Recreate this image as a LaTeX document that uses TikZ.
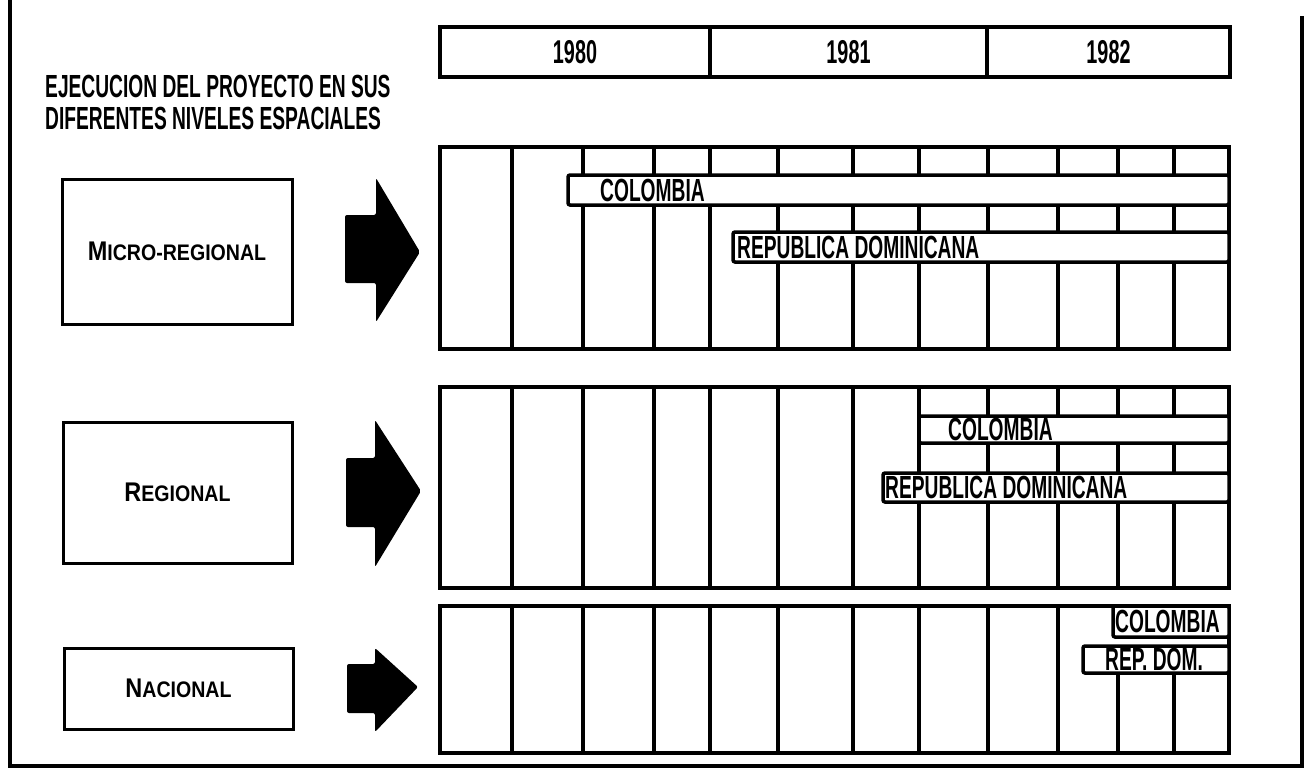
\documentclass[tikz,border=0pt]{standalone}
\usepackage{fontspec}
\setmainfont{Liberation Sans}
\newfontfamily\plotfont[FakeStretch=0.6]{Liberation Sans}
\newfontfamily\levelfont[FakeStretch=0.87]{Liberation Sans}
\usepackage{tikz}
\usetikzlibrary{
  positioning
}
% small caps drawn by hand: big first letter, smaller rest
\newcommand{\levelName}[2]{%
  {\fontsize{27}{27}\selectfont #1}{\fontsize{22.5}{22.5}\selectfont #2}}
\tikzset{
  gantFrame/.style={
    draw=black,
    line width=4.5pt
  },
  gantLine/.style={
    draw=black,
    line width=3.5pt
  },
  titleText/.style={
    align=left,
    inner sep=0pt,
    font=\plotfont\bfseries\fontsize{32}{32}\selectfont
  },
  yearBox/.style={
    rectangle,
    draw=black,
    line width=3.5pt,
    minimum height=50pt,
    inner sep=0pt,
    outer sep=0pt,
    anchor=north west,
    font=\plotfont\bfseries\fontsize{33}{33}\selectfont
  },
  levelBox/.style={
    rectangle,
    draw=black,
    line width=3pt,
    inner sep=0pt,
    font=\levelfont\bfseries
  },
  levelArrow/.style={
    fill=black,
    rounded corners=2pt
  },
  barBox/.style={
    rectangle,
    draw=black,
    fill=white,
    line width=3.5pt,
    rounded corners=2pt,
    inner sep=0pt,
    outer sep=0pt,
    anchor=north west
  },
  barText/.style={
    inner sep=0pt,
    font=\plotfont\bfseries\fontsize{32}{32}\selectfont
  }
}

\begin{document}
\begin{tikzpicture}[x=1pt, y=-1pt]
  \useasboundingbox (0,0) rectangle (1307,771);

  % outer frame (top edge cut off)
  \draw[gantFrame] (10,0) -- (10,766) -- (1302,766) -- (1302,16);

  \node[titleText, anchor=north west] (title) at (45,75)
    {EJECUCION DEL PROYECTO EN SUS\\DIFERENTES NIVELES ESPACIALES};

  % years
  \node[yearBox, minimum width=270pt] (y1980) at (440,27) {1980};
  \node[yearBox, minimum width=277pt, right=0pt of y1980] (y1981) {1981};
  \node[yearBox, minimum width=243pt, right=0pt of y1981] (y1982) {1982};

  % levels
  \node[levelBox, minimum width=230pt, minimum height=145pt]
    (micro) at (177,251.5) {\levelName{M}{ICRO-REGIONAL}};
  \node[levelBox, minimum width=229pt, minimum height=141pt]
    (regional) at (177.5,492.5) {\levelName{R}{EGIONAL}};
  \node[levelBox, minimum width=229pt, minimum height=81pt]
    (nacional) at (178.5,688.5) {\levelName{N}{ACIONAL}};

  \fill[levelArrow] (345,215) -- (376,215) -- (376,178) -- (420,252)
    -- (376,322) -- (376,283) -- (345,283) -- cycle;
  \fill[levelArrow] (346,458) -- (375,458) -- (375,420) -- (421,491)
    -- (375,567) -- (375,527) -- (346,527) -- cycle;
  \fill[levelArrow] (347,664) -- (375,664) -- (375,648) -- (418,687)
    -- (375,732) -- (375,713) -- (347,713) -- cycle;

  % time grids
  \foreach \top/\bot in {147/349, 387/588} {
    \draw[gantLine] (440,\top) rectangle (1229,\bot);
    \foreach \x in {512,583,654,710,778,853,919,988,1058,1118,1174}
      \draw[gantLine] (\x,\top) -- (\x,\bot);
  }
  \draw[gantLine] (440,606) rectangle (1229,753);
  \foreach \x in {512,583,654,710,778,853,919,988,1058}
    \draw[gantLine] (\x,606) -- (\x,753);
  \foreach \x in {1118,1174}
    \draw[gantLine] (\x,673) -- (\x,753);

  % micro-regional
  \node[barBox, minimum width=661pt, minimum height=30pt] (microCol) at (568,175) {};
  \node[barText, right=32pt of microCol.west] (microColText) {COLOMBIA};
  \node[barBox, minimum width=496pt, minimum height=30pt] (microRep) at (733,232) {};
  \node[barText, right=4pt of microRep.west] (microRepText) {REPUBLICA DOMINICANA};

  % regional
  \node[barBox, minimum width=310pt, minimum height=27pt] (regCol) at (919,416) {};
  \node[barText, right=29pt of regCol.west] (regColText) {COLOMBIA};
  \node[barBox, minimum width=346pt, minimum height=29pt] (regRep) at (883,473) {};
  \node[barText, right=2pt of regRep.west] (regRepText) {REPUBLICA DOMINICANA};

  % nacional
  \node[barBox, minimum width=116pt, minimum height=31pt] (nacCol) at (1113,606) {};
  \node[barText, right=2pt of nacCol.west] (nacColText) {COLOMBIA};
  \node[barBox, minimum width=146pt, minimum height=27pt] (nacRep) at (1083,646) {};
  \node[barText, right=22pt of nacRep.west] (nacRepText) {REP. DOM.};
\end{tikzpicture}
\end{document}
